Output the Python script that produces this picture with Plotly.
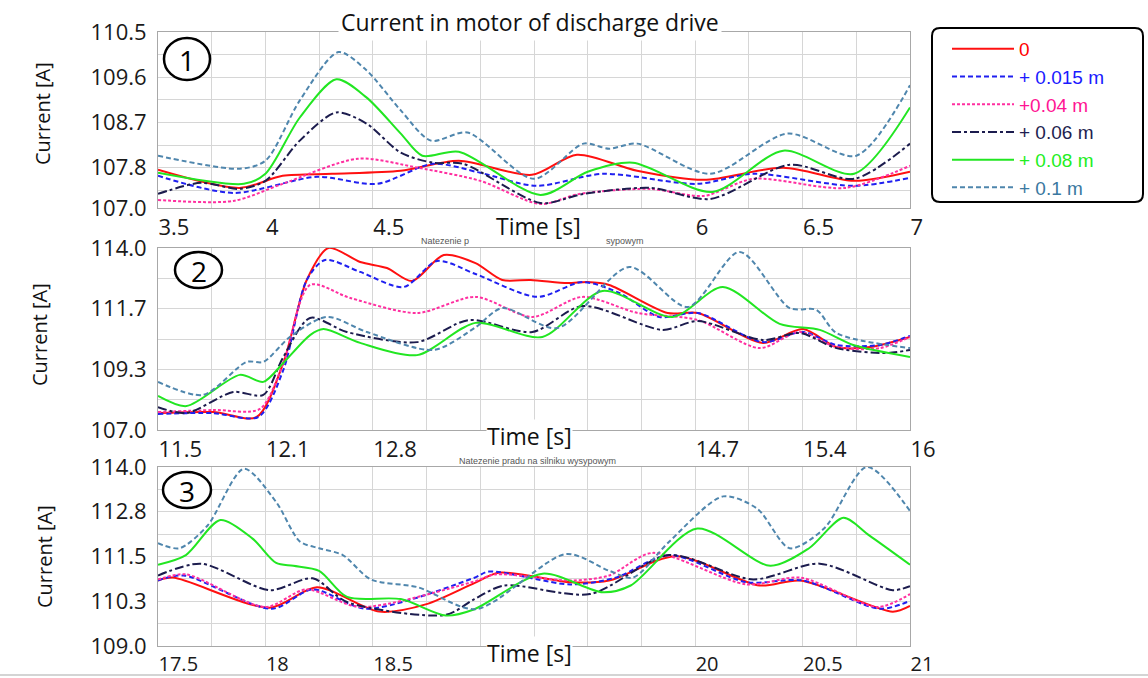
import plotly.graph_objects as go
from plotly.subplots import make_subplots

W, H = 1148, 678

# ---------------- data: panel 1 (3.5 - 7 s) ----------------
p1_t_0 = [3.5, 3.88, 4.08, 4.31, 4.63, 4.9, 5.24, 5.45, 5.73, 6.04, 6.41, 6.74, 7.0]
p1_v_0 = [107.76, 107.40, 107.64, 107.68, 107.74, 107.94, 107.66, 108.06, 107.74, 107.56, 107.80, 107.54, 107.72]
p1_t_015 = [3.5, 3.85, 4.24, 4.52, 4.78, 5.0, 5.26, 5.57, 6.01, 6.27, 6.74, 7.0]
p1_v_015 = [107.64, 107.30, 107.62, 107.48, 107.88, 107.70, 107.44, 107.68, 107.48, 107.68, 107.44, 107.60]
p1_t_04 = [3.5, 3.85, 4.08, 4.43, 4.71, 5.0, 5.28, 5.46, 5.79, 6.04, 6.27, 6.7, 7.0]
p1_v_04 = [107.16, 107.14, 107.48, 107.98, 107.80, 107.54, 107.08, 107.28, 107.38, 107.24, 107.58, 107.40, 107.84]
p1_t_06 = [3.5, 3.7, 3.88, 4.0, 4.16, 4.33, 4.47, 4.63, 4.78, 4.92, 5.28, 5.48, 5.79, 6.07, 6.44, 6.74, 7.0]
p1_v_06 = [107.28, 107.50, 107.38, 107.54, 108.34, 108.90, 108.68, 108.10, 107.90, 107.88, 107.10, 107.28, 107.40, 107.18, 107.86, 107.58, 108.28]
p1_t_08 = [3.5, 3.9, 4.0, 4.16, 4.33, 4.47, 4.63, 4.73, 4.9, 5.28, 5.5, 5.71, 6.08, 6.41, 6.74, 7.0]
p1_v_08 = [107.70, 107.48, 107.68, 108.80, 109.56, 109.20, 108.48, 108.04, 108.12, 107.26, 107.72, 107.90, 107.32, 108.14, 107.68, 109.00]
p1_t_1 = [3.5, 3.88, 4.0, 4.16, 4.34, 4.47, 4.63, 4.77, 4.94, 5.25, 5.48, 5.6, 5.73, 6.07, 6.43, 6.75, 7.0]
p1_v_1 = [108.04, 107.78, 107.94, 109.14, 110.10, 109.74, 108.94, 108.34, 108.50, 107.58, 108.28, 108.18, 108.28, 107.68, 108.48, 108.04, 109.44]

# ---------------- data: panel 2 (11.5 - 16 s) ----------------
p2_t_0 = [11.5, 11.83, 12.09, 12.25, 12.39, 12.52, 12.71, 12.87, 13.02, 13.21, 13.4, 13.56, 13.73, 13.95, 14.07, 14.2, 14.55, 14.73, 15.12, 15.36, 15.56, 15.76, 16.0]
p2_v_0 = [107.65, 107.69, 107.50, 109.58, 112.77, 114.00, 113.46, 113.23, 112.73, 113.73, 113.42, 112.77, 112.77, 112.65, 112.69, 112.58, 111.50, 111.50, 110.35, 110.88, 110.19, 110.19, 110.58]
p2_t_015 = [11.5, 11.83, 12.1, 12.25, 12.39, 12.5, 12.71, 12.97, 13.17, 13.4, 13.77, 14.04, 14.26, 14.5, 14.73, 15.12, 15.36, 15.56, 15.82, 16.0]
p2_v_015 = [107.62, 107.65, 107.50, 109.31, 112.77, 113.54, 113.08, 112.50, 113.50, 113.00, 112.12, 112.69, 112.27, 111.35, 111.50, 110.38, 110.77, 110.27, 110.27, 110.62]
p2_t_04 = [11.5, 11.83, 12.11, 12.25, 12.41, 12.65, 13.05, 13.4, 13.74, 14.04, 14.37, 14.73, 15.1, 15.34, 15.56, 15.82, 16.0]
p2_v_04 = [107.69, 107.77, 107.81, 109.58, 112.58, 112.08, 111.50, 112.12, 111.35, 112.12, 111.50, 111.23, 110.15, 110.77, 110.19, 110.15, 110.58]
p2_t_06 = [11.5, 11.67, 11.95, 12.13, 12.25, 12.41, 12.63, 13.05, 13.36, 13.74, 14.04, 14.52, 14.73, 15.12, 15.34, 15.56, 15.86, 16.0]
p2_v_06 = [107.88, 107.65, 108.46, 108.35, 109.81, 111.31, 110.77, 110.38, 111.23, 110.77, 111.77, 110.85, 111.19, 110.46, 110.73, 110.15, 109.96, 110.08]
p2_t_08 = [11.5, 11.67, 11.99, 12.13, 12.25, 12.41, 12.49, 12.71, 13.05, 13.4, 13.8, 14.16, 14.58, 14.88, 15.22, 15.46, 15.66, 16.0]
p2_v_08 = [108.31, 107.92, 109.12, 108.85, 109.58, 110.65, 110.88, 110.35, 109.88, 111.12, 110.58, 112.35, 111.35, 112.50, 111.08, 110.85, 110.27, 109.81]
p2_t_1 = [11.5, 11.77, 12.03, 12.13, 12.29, 12.51, 12.75, 13.15, 13.4, 13.56, 13.89, 14.32, 14.67, 14.98, 15.28, 15.44, 15.56, 16.0]
p2_v_1 = [108.85, 108.35, 109.62, 109.62, 110.58, 111.35, 110.77, 110.08, 110.95, 111.69, 110.92, 113.27, 111.73, 113.85, 111.69, 111.62, 110.73, 110.15]

# ---------------- data: panel 3 (17.5 - 21 s) ----------------
p3_t_0 = [17.5, 17.57, 18.02, 18.24, 18.53, 18.75, 18.97, 19.09, 19.42, 19.6, 19.91, 20.3, 20.49, 20.92, 21.0]
p3_v_0 = [110.83, 110.91, 110.07, 110.64, 109.96, 110.17, 110.75, 111.05, 110.78, 110.83, 111.51, 110.69, 110.83, 109.96, 110.12]
p3_t_015 = [17.5, 17.62, 18.03, 18.22, 18.47, 18.97, 19.04, 19.42, 19.63, 19.88, 20.24, 20.5, 20.86, 21.0]
p3_v_015 = [110.83, 110.97, 110.04, 110.58, 110.04, 110.90, 111.08, 110.72, 110.91, 111.54, 110.78, 110.83, 110.04, 110.26]
p3_t_04 = [17.5, 17.63, 18.0, 18.19, 18.44, 18.97, 19.07, 19.42, 19.6, 19.8, 20.24, 20.49, 20.85, 21.0]
p3_v_04 = [110.86, 111.00, 110.09, 110.58, 110.09, 110.80, 111.00, 110.83, 110.97, 111.60, 110.72, 110.91, 110.09, 110.45]
p3_t_06 = [17.5, 17.7, 18.02, 18.22, 18.38, 18.84, 18.97, 19.11, 19.51, 19.88, 20.27, 20.58, 20.92, 21.0]
p3_v_06 = [110.97, 111.30, 110.56, 110.89, 110.23, 109.87, 110.30, 110.69, 110.45, 111.54, 110.86, 111.30, 110.56, 110.67]
p3_t_08 = [17.5, 17.63, 17.79, 17.94, 18.05, 18.13, 18.25, 18.38, 18.63, 18.84, 18.97, 19.29, 19.57, 19.7, 20.01, 20.35, 20.53, 20.69, 20.81, 21.0]
p3_v_08 = [111.27, 111.54, 112.52, 112.00, 111.32, 111.24, 111.10, 110.37, 110.31, 109.85, 110.02, 111.02, 110.50, 110.69, 112.28, 111.24, 111.73, 112.58, 112.09, 111.27]
p3_t_1 = [17.5, 17.6, 17.73, 17.9, 18.05, 18.16, 18.25, 18.36, 18.49, 18.71, 18.98, 19.4, 19.6, 19.71, 19.88, 20.13, 20.29, 20.44, 20.6, 20.8, 21.0]
p3_v_1 = [111.87, 111.73, 112.36, 113.95, 113.02, 111.92, 111.73, 111.54, 110.86, 110.64, 110.03, 111.57, 111.10, 110.91, 111.92, 113.18, 112.83, 111.73, 112.28, 114.00, 112.77]

# ---------------- series definitions ----------------
series_names = ["0", "+ 0.015 m", "+0.04 m", "+ 0.06 m", "+ 0.08 m", "+ 0.1 m"]
series_colors = ["#ff1010", "#2020f0", "#ff2fa0", "#1c1c4e", "#22e622", "#4f86ad"]
legend_text_colors = ["#ff0000", "#1a1aff", "#ff1493", "#1e1e50", "#22ee22", "#3a78a0"]
series_dash = ["solid", "5px,3px", "3px,2px", "dashdot", "solid", "5px,3px"]

panel_data = [
    [(p1_t_0, p1_v_0), (p1_t_015, p1_v_015), (p1_t_04, p1_v_04), (p1_t_06, p1_v_06), (p1_t_08, p1_v_08), (p1_t_1, p1_v_1)],
    [(p2_t_0, p2_v_0), (p2_t_015, p2_v_015), (p2_t_04, p2_v_04), (p2_t_06, p2_v_06), (p2_t_08, p2_v_08), (p2_t_1, p2_v_1)],
    [(p3_t_0, p3_v_0), (p3_t_015, p3_v_015), (p3_t_04, p3_v_04), (p3_t_06, p3_v_06), (p3_t_08, p3_v_08), (p3_t_1, p3_v_1)],
]

# ---------------- axes ticks ----------------
x1_ticks = [3.5, 4.0, 4.5, 5.0, 5.5, 6.0, 6.5, 7.0]
x1_text = ["3.5", "4", "4.5", "", "", "6", "6.5", "7"]
x1_minor = [3.75, 4.25, 4.75, 5.25, 5.75, 6.25, 6.75]
x2_ticks = [11.5, 12.1429, 12.7857, 13.4286, 14.0714, 14.7143, 15.3571, 16.0]
x2_text = ["11.5", "12.1", "12.8", "", "", "14.7", "15.4", "16"]
x2_minor = [11.8214, 12.4643, 13.1071, 13.75, 14.3929, 15.0357, 15.6786]
x3_ticks = [17.5, 18.0, 18.5, 19.0, 19.5, 20.0, 20.5, 21.0]
x3_text = ["17.5", "18", "18.5", "", "", "20", "20.5", "21"]
x3_minor = [17.75, 18.25, 18.75, 19.25, 19.75, 20.25, 20.75]

y1_ticks = [107.0, 107.8, 108.7, 109.6, 110.5]
y1_text = ["107.0", "107.8", "108.7", "109.6", "110.5"]
y1_minor = [107.35, 108.25, 109.15, 110.05]
y2_ticks = [107.0, 109.3333, 111.6667, 114.0]
y2_text = ["107.0", "109.3", "111.7", "114.0"]
y2_minor = [108.1667, 110.5, 112.8333]
y3_ticks = [109.0, 110.25, 111.5, 112.75, 114.0]
y3_text = ["109.0", "110.3", "111.5", "112.8", "114.0"]
y3_minor = [109.625, 110.875, 112.125, 113.375]

x_ranges = [[3.5, 7.0], [11.5, 16.0], [17.5, 21.0]]
y_ranges = [[107.0, 110.5], [107.0, 114.0], [109.0, 114.0]]
x_ticks = [(x1_ticks, x1_text, x1_minor), (x2_ticks, x2_text, x2_minor), (x3_ticks, x3_text, x3_minor)]
y_ticks = [(y1_ticks, y1_text, y1_minor), (y2_ticks, y2_text, y2_minor), (y3_ticks, y3_text, y3_minor)]


def px(x):
    return x / W


def py(y):
    return 1 - y / H


panel_px = [(32, 208), (248, 430), (467, 646)]
x_tick_sizes = [22, 22, 20]
x_dom = [px(158), px(910)]

fig = make_subplots(rows=3, cols=1)

for p, pdata in enumerate(panel_data):
    for i, (t, v) in enumerate(pdata):
        name = '<span style="color:%s">%s</span>' % (legend_text_colors[i], series_names[i])
        fig.add_trace(
            go.Scatter(
                x=t, y=v, mode="lines", name=name,
                line=dict(color=series_colors[i], width=2, dash=series_dash[i],
                          shape="spline", smoothing=0.8),
                showlegend=(p == 0), legendgroup=str(i),
                hoverinfo="skip",
            ),
            row=p + 1, col=1,
        )

grid_col = "#d6d6d6"
for p in range(3):
    top, bot = panel_px[p]
    xt, xtxt, xmin = x_ticks[p]
    yt, ytxt, ymin = y_ticks[p]
    fig.update_xaxes(
        row=p + 1, col=1, domain=x_dom, range=x_ranges[p], automargin=False,
        tickmode="array", tickvals=xt, ticktext=xtxt,
        ticklabelposition="outside right", ticks="", ticklabelstandoff=0,
        showgrid=True, gridcolor=grid_col, gridwidth=1,
        minor=dict(tickmode="array", tickvals=xmin, showgrid=True, gridcolor=grid_col, ticks=""),
        showline=True, linecolor="#a8a8a8", linewidth=1, mirror=True,
        zeroline=False, tickfont=dict(family="Open Sans", size=x_tick_sizes[p], color="#1a1a1a"),
    )
    fig.update_yaxes(
        row=p + 1, col=1, domain=[py(bot), py(top)], range=y_ranges[p], automargin=False,
        tickmode="array", tickvals=yt, ticktext=ytxt, ticks="", ticklabelstandoff=6,
        showgrid=True, gridcolor=grid_col, gridwidth=1,
        minor=dict(tickmode="array", tickvals=ymin, showgrid=True, gridcolor=grid_col, ticks=""),
        showline=True, linecolor="#a8a8a8", linewidth=1, mirror=True,
        zeroline=False, tickfont=dict(family="Open Sans", size=22, color="#1a1a1a"),
    )


def note(text, x, y, size, family="Open Sans", color="#111", **kw):
    d = dict(text=text, x=px(x), y=py(y), xref="paper", yref="paper", showarrow=False,
             xanchor="center", yanchor="middle",
             font=dict(family=family, size=size, color=color))
    d.update(kw)
    return d


annotations = []
annotations.append(note("Current in motor of discharge drive", 530, 22, 23,
                        bgcolor="white", borderpad=2))
for yc, xc in [(114, 42), (335, 40), (557, 44)]:
    annotations.append(note("Current [A]", xc, yc, 20, textangle=-90))
for xc, yc in [(538, 226), (529, 436), (529, 653)]:
    annotations.append(note("Time [s]", xc, yc, 23, bgcolor="white", borderpad=0))
annotations.append(note("Natezenie p", 445, 241, 9, family="Liberation Sans", color="#555"))
annotations.append(note("sypowym", 625, 241, 9, family="Liberation Sans", color="#555"))
annotations.append(note("Natezenie pradu na silniku wysypowym", 537, 461, 9,
                        family="Liberation Sans", color="#555"))

circles = [(164, 38, 210, 80, "1"), (175, 252, 222, 288, "2"), (163, 472, 211, 508, "3")]
shapes = []
for x0, y0, x1, y1, lab in circles:
    shapes.append(dict(type="circle", xref="paper", yref="paper", x0=px(x0), x1=px(x1),
                       y0=py(y1), y1=py(y0), line=dict(color="black", width=2.5), fillcolor="white"))
    annotations.append(note(lab, (x0 + x1) / 2, (y0 + y1) / 2 + 1, 28, color="black"))

bx0, by0, bx1, by1, r = 932, 28, 1143, 202, 8
path = ("M {a},{b} L {c},{b} Q {x1},{b} {x1},{d} L {x1},{e} Q {x1},{f} {c},{f} "
        "L {a},{f} Q {x0},{f} {x0},{e} L {x0},{d} Q {x0},{b} {a},{b} Z").format(
    a=px(bx0 + r), c=px(bx1 - r), b=py(by0), d=py(by0 + r), e=py(by1 - r), f=py(by1),
    x0=px(bx0), x1=px(bx1))
shapes.append(dict(type="path", xref="paper", yref="paper", path=path,
                   line=dict(color="black", width=2), fillcolor="white", layer="below"))
shapes.append(dict(type="line", xref="paper", yref="paper", x0=0, x1=1, y0=py(675), y1=py(675),
                   line=dict(color="#d4d4d4", width=2), layer="below"))

fig.update_layout(
    width=W, height=H,
    margin=dict(l=0, r=0, t=0, b=0, autoexpand=False),
    paper_bgcolor="white", plot_bgcolor="white",
    annotations=annotations, shapes=shapes,
    legend=dict(x=px(947), y=py(30), xanchor="left", yanchor="top",
                bgcolor="rgba(0,0,0,0)", borderwidth=0,
                font=dict(family="Liberation Sans", size=19),
                itemwidth=62, tracegroupgap=0, traceorder="normal"),
    showlegend=True,
)

fig.write_html("out.html")
